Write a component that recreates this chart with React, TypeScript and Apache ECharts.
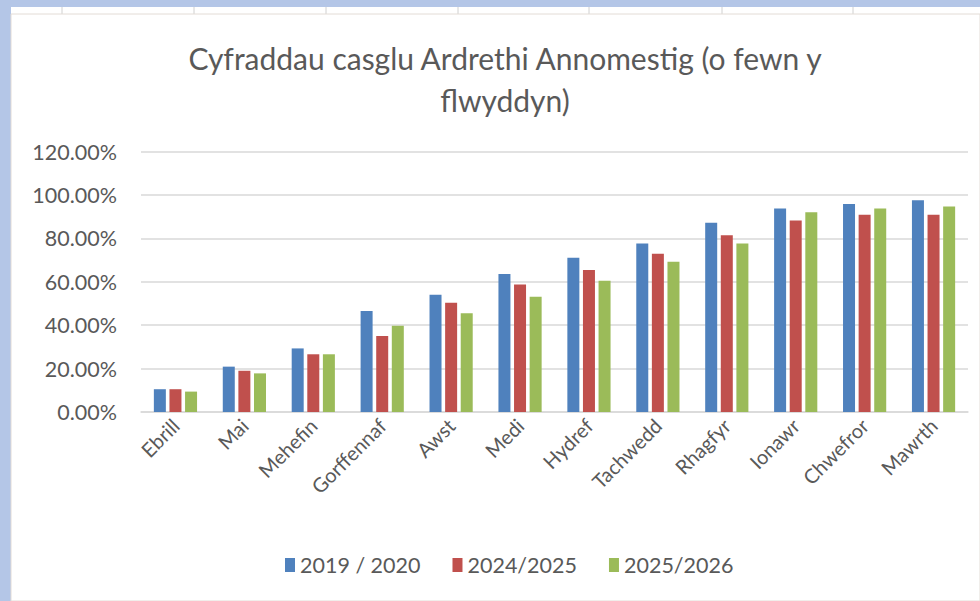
import React, { useEffect, useRef } from "react";
import * as echarts from "echarts";

const categories = ["Ebrill", "Mai", "Mehefin", "Gorffennaf", "Awst", "Medi", "Hydref", "Tachwedd", "Rhagfyr", "Ionawr", "Chwefror", "Mawrth"];
const seriesNames = ["2019 / 2020", "2024/2025", "2025/2026"];
const values2019 = [0.105, 0.209, 0.293, 0.465, 0.54, 0.636, 0.711, 0.777, 0.872, 0.938, 0.958, 0.976];
const values2024 = [0.105, 0.19, 0.266, 0.35, 0.503, 0.588, 0.654, 0.729, 0.814, 0.883, 0.909, 0.909];
const values2025 = [0.094, 0.178, 0.266, 0.398, 0.455, 0.531, 0.605, 0.692, 0.777, 0.92, 0.938, 0.947];
const colors = ["#4F81BD", "#C0504D", "#9BBB59"];
const yTicks = { min: 0, max: 1.2, interval: 0.2 };

export default function App() {
  const ref = useRef<HTMLDivElement>(null);
  useEffect(() => {
    if (!ref.current) return;
    const chart = echarts.init(ref.current, undefined, { renderer: "svg" });
    const font = "Lato, 'Open Sans', sans-serif";
    const cellLines = [62, 194, 326, 458, 589, 722, 853].map((x) => ({
      type: "line",
      shape: { x1: x, y1: 7, x2: x, y2: 14 },
      style: { stroke: "#d0d0d0", lineWidth: 1 },
      z: -8,
    }));
    chart.setOption({
      animation: false,
      backgroundColor: "#B4C6E7",
      color: colors,
      graphic: [
        { type: "rect", shape: { x: 11, y: 7, width: 969, height: 7 }, style: { fill: "#ffffff" }, z: -9 },
        ...cellLines,
        { type: "rect", shape: { x: 11, y: 14, width: 969, height: 587 }, style: { fill: "#ffffff", stroke: "#e3dcd6", lineWidth: 1 }, z: -7 },
      ],
      title: {
        text: "Cyfraddau casglu Ardrethi Annomestig (o fewn y\nflwyddyn)",
        left: 505,
        textAlign: "center",
        top: 37,
        padding: 0,
        textStyle: { fontFamily: font, fontSize: 30, fontWeight: "normal", color: "#595959", lineHeight: 42 },
      },
      legend: {
        data: seriesNames,
        bottom: 20,
        left: 280,
        itemWidth: 10,
        itemHeight: 14,
        itemGap: 32,
        icon: "rect",
        textStyle: { fontFamily: font, fontSize: 21.5, color: "#595959" },
      },
      grid: { left: 141, right: 12, top: 151.6, bottom: 189 },
      xAxis: {
        type: "category",
        data: categories,
        axisLine: { lineStyle: { color: "#d9d9d9", width: 1.5 } },
        axisTick: { show: false },
        axisLabel: { rotate: 45, margin: 10, fontFamily: font, fontSize: 20, color: "#595959", interval: 0 },
      },
      yAxis: {
        type: "value",
        min: yTicks.min,
        max: yTicks.max,
        interval: yTicks.interval,
        axisLine: { show: false },
        axisTick: { show: false },
        splitLine: { lineStyle: { color: "#d9d9d9", width: 1.5 } },
        axisLabel: {
          margin: 24,
          fontFamily: font,
          fontSize: 21.5,
          color: "#595959",
          formatter: (v: number) => (v * 100).toFixed(2) + "%",
        },
      },
      series: [values2019, values2024, values2025].map((d, i) => ({
        name: seriesNames[i],
        type: "bar",
        data: d,
        barWidth: 12,
        barGap: "30%",
      })),
    });
    return () => chart.dispose();
  }, []);
  return <div ref={ref} style={{ position: "fixed", left: 0, top: 0, width: 980, height: 601 }} />;
}
